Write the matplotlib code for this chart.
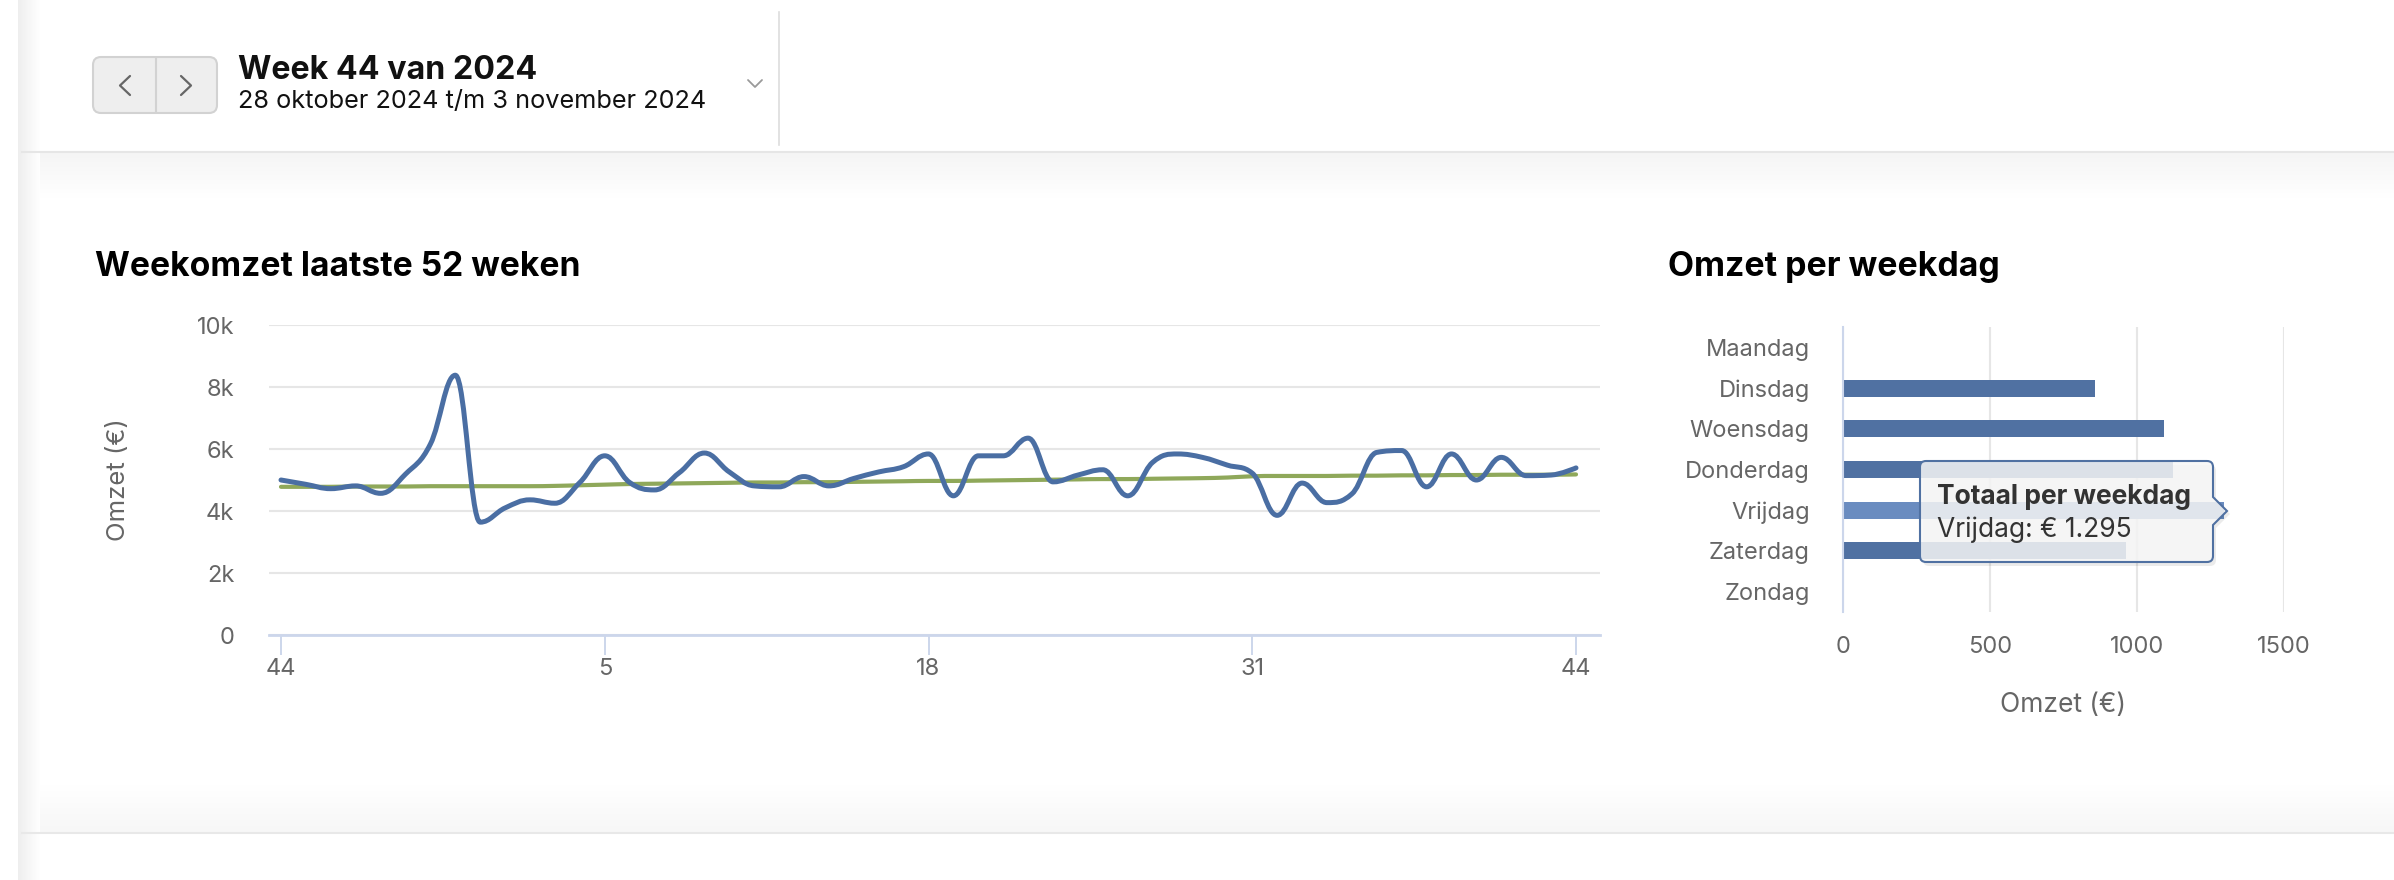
import numpy as np
import matplotlib
matplotlib.use("Agg")
import matplotlib.pyplot as plt
from matplotlib.path import Path
from matplotlib.patches import PathPatch, FancyBboxPatch
from matplotlib.colors import LinearSegmentedColormap

plt.rcParams['font.family'] = ['Inter', 'DejaVu Sans']

# --- data -------------------------------------------------------------
weeks = [44, 45, 46, 47, 48, 49, 50, 51, 52] + list(range(1, 45))
omzet = [5000, 4860, 4720, 4810, 4570, 5190, 6160, 8380, 3640, 4100,
         4360, 4250, 4920, 5780, 4920, 4680, 5240, 5870, 5260, 4810,
         4780, 5110, 4810, 5050, 5260, 5430, 5840, 4490, 5780, 5780,
         6350, 4940, 5160, 5330, 4490, 5570, 5840, 5730, 5480, 5220,
         3860, 4900, 4270, 4550, 5890, 5950, 4780, 5840, 5000, 5730,
         5140, 5160, 5390]
gemiddelde = [4780, 4780, 4780, 4790, 4790, 4790, 4800, 4800, 4800, 4800,
              4800, 4810, 4830, 4850, 4870, 4880, 4890, 4900, 4910, 4920,
              4920, 4930, 4930, 4940, 4950, 4960, 4970, 4970, 4980, 4990,
              5000, 5010, 5020, 5030, 5030, 5040, 5050, 5060, 5080, 5120,
              5130, 5130, 5130, 5140, 5140, 5150, 5150, 5160, 5160, 5170,
              5170, 5170, 5180]
tick_idx = [0, 13, 26, 39, 52]

dagen = ['Maandag', 'Dinsdag', 'Woensdag', 'Donderdag', 'Vrijdag', 'Zaterdag', 'Zondag']
dag_omzet = [0, 858, 1091, 1122, 1295, 963, 0]
hover_dag = 'Vrijdag'

W, H = 2394, 880
BLUE = '#4a6ea3'
GREEN = '#8fa85a'
BAR = '#5071a2'
BAR_HOVER = '#6a8cc0'
GRID = '#e6e6e6'
AXIS = '#ccd6eb'
LABEL = '#666666'


def fx(x):
    return x / W


def fy(y):
    return 1 - y / H


def hc_spline(x, y, smoothing=1.5):
    # same control point rule as a Highcharts spline series
    n = len(x)
    denom = smoothing + 1
    lc = [None] * n
    rc = [None] * n
    for i in range(1, n - 1):
        lx = (smoothing * x[i] + x[i - 1]) / denom
        ly = (smoothing * y[i] + y[i - 1]) / denom
        rx = (smoothing * x[i] + x[i + 1]) / denom
        ry = (smoothing * y[i] + y[i + 1]) / denom
        corr = 0
        if rx != lx:
            corr = ((ry - ly) * (rx - x[i])) / (rx - lx) + y[i] - ry
        ly += corr
        ry += corr
        if ly > y[i - 1] and ly > y[i]:
            ly = max(y[i - 1], y[i]); ry = 2 * y[i] - ly
        elif ly < y[i - 1] and ly < y[i]:
            ly = min(y[i - 1], y[i]); ry = 2 * y[i] - ly
        if ry > y[i + 1] and ry > y[i]:
            ry = max(y[i + 1], y[i]); ly = 2 * y[i] - ry
        elif ry < y[i + 1] and ry < y[i]:
            ry = min(y[i + 1], y[i]); ly = 2 * y[i] - ry
        lc[i] = (lx, ly)
        rc[i] = (rx, ry)
    verts = [(x[0], y[0])]
    codes = [Path.MOVETO]
    for i in range(1, n):
        c1 = rc[i - 1] if rc[i - 1] else (x[i - 1], y[i - 1])
        c2 = lc[i] if lc[i] else (x[i], y[i])
        verts += [c1, c2, (x[i], y[i])]
        codes += [Path.CURVE4] * 3
    return Path(verts, codes)


fig = plt.figure(figsize=(W / 100, H / 100), dpi=100)
fig.patch.set_facecolor('white')

# --- page background / header -----------------------------------------
bg = fig.add_axes([0, 0, 1, 1], zorder=-5)
bg.axis('off')

def grad(ax, x0, x1, y0, y1, c0, c1, vertical):
    cmap = LinearSegmentedColormap.from_list('g', [c0, c1])
    g = np.linspace(0, 1, 64)
    img = g.reshape(-1, 1) if vertical else g.reshape(1, -1)
    ax.imshow(img, cmap=cmap, extent=[x0, x1, y1, y0], aspect='auto', origin='upper')

grad(bg, 22, W, 153, 198, '#f5f5f5', '#ffffff', True)
grad(bg, 22, W, 785, 832, '#ffffff', '#f7f7f7', True)
grad(bg, 18, 40, 0, H, '#eeeeee', '#ffffff', False)
bg.plot([22, W], [152, 152], color='#e6e6e6', lw=1.5)
bg.plot([22, W], [833, 833], color='#e8e8e8', lw=1.5)
bg.set_xlim(0, W)
bg.set_ylim(H, 0)

# navigation buttons
bg.add_patch(FancyBboxPatch((93, 57), 124, 56, boxstyle='round,pad=0,rounding_size=8',
                            facecolor='#eeeeee', edgecolor='#d2d2d2', lw=1.5))
bg.plot([156, 156], [58, 112], color='#d2d2d2', lw=1.5)
bg.plot([130, 120, 130], [76, 85.5, 95], color='#666666', lw=1.6, solid_capstyle='round')
bg.plot([181, 191, 181], [76, 85.5, 95], color='#666666', lw=1.6, solid_capstyle='round')
bg.plot([748, 755, 762], [80, 87, 80], color='#9a9a9a', lw=1.3, solid_capstyle='round')
bg.plot([779, 779], [12, 145], color='#dddddd', lw=1.2)

fig.text(fx(238), fy(79), 'Week 44 van 2024', fontsize=23.2, fontweight='bold',
         color='#111111', va='baseline')
fig.text(fx(238), fy(108), '28 oktober 2024 t/m 3 november 2024', fontsize=18.2,
         color='#111111', va='baseline')

fig.text(fx(95), fy(276), 'Weekomzet laatste 52 weken', fontsize=24.2, fontweight='bold',
         color='#000000', va='baseline')
fig.text(fx(1668), fy(276), 'Omzet per weekdag', fontsize=24.4, fontweight='bold',
         color='#000000', va='baseline')

# --- left chart: week omzet --------------------------------------------
px_per_week = (1576 - 281) / 52
ax1 = fig.add_axes([fx(269), fy(635), fx(1600 - 269), (635 - 325) / H])
x = np.arange(len(omzet))
ax1.set_xlim(-(281 - 269) / px_per_week, 52 + (1600 - 1576) / px_per_week)
ax1.set_ylim(0, 10000)
ax1.add_patch(PathPatch(hc_spline(x, gemiddelde), facecolor='none', edgecolor=GREEN,
                        lw=3.0, capstyle='round', joinstyle='round', zorder=3))
ax1.add_patch(PathPatch(hc_spline(x, omzet), facecolor='none', edgecolor=BLUE,
                        lw=3.6, capstyle='round', joinstyle='round', zorder=4))
ax1.set_yticks([0, 2000, 4000, 6000, 8000, 10000])
ax1.set_yticklabels(['0', '2k', '4k', '6k', '8k', '10k'])
ax1.set_xticks(tick_idx)
ax1.set_xticklabels([str(weeks[i]) for i in tick_idx])
ax1.yaxis.grid(True, color=GRID, lw=1.5)
ax1.set_axisbelow(True)
for s in ['top', 'right', 'left']:
    ax1.spines[s].set_visible(False)
ax1.spines['bottom'].set_color(AXIS)
ax1.spines['bottom'].set_linewidth(2)
ax1.tick_params(axis='y', length=0, pad=25, labelsize=17, labelcolor=LABEL)
ax1.tick_params(axis='x', length=14.4, width=1.4, color=AXIS, pad=2,
                labelsize=17, labelcolor=LABEL)
ax1.patch.set_alpha(0)
fig.text(fx(119), fy(480), 'Omzet (€)', rotation=90, fontsize=18.5, color=LABEL,
         ha='center', va='center')

# --- right chart: omzet per weekdag --------------------------------------
ax2 = fig.add_axes([fx(1843), fy(612), fx(2284 - 1843), (612 - 327) / H])
kleuren = [BAR_HOVER if d == hover_dag else BAR for d in dagen]
ax2.barh(np.arange(len(dagen)), dag_omzet, height=0.415, color=kleuren, zorder=3)
ax2.set_xlim(0, 1500)
ax2.set_ylim(len(dagen) - 0.5, -0.5)
ax2.set_yticks(np.arange(len(dagen)))
ax2.set_yticklabels(dagen)
ax2.set_xticks([0, 500, 1000, 1500])
ax2.xaxis.grid(True, color=GRID, lw=1.5)
ax2.set_axisbelow(True)
for s in ['top', 'right', 'bottom']:
    ax2.spines[s].set_visible(False)
ax2.spines['left'].set_color(AXIS)
ax2.spines['left'].set_linewidth(1.5)
ax2.spines['left'].set_zorder(4)
ax2.tick_params(axis='y', length=0, pad=24, labelsize=17, labelcolor=LABEL)
ax2.tick_params(axis='x', length=0, pad=17, labelsize=17, labelcolor=LABEL)
ax2.patch.set_alpha(0)
fig.text(fx(2063), fy(705), 'Omzet (€)', fontsize=19, color=LABEL,
         ha='center', va='center')

# --- tooltip overlay --------------------------------------------------
ov = fig.add_axes([0, 0, 1, 1], zorder=10)
ov.set_xlim(0, W)
ov.set_ylim(H, 0)
ov.axis('off')
ov.patch.set_alpha(0)

def callout(x0, y0, x1, y1, r, ty, tip):
    v = [(x0 + r, y0), (x1 - r, y0), (x1, y0), (x1, y0 + r),
         (x1, ty - 14), (x1 + tip, ty), (x1, ty + 14),
         (x1, y1 - r), (x1, y1), (x1 - r, y1),
         (x0 + r, y1), (x0, y1), (x0, y1 - r),
         (x0, y0 + r), (x0, y0), (x0 + r, y0), (x0 + r, y0)]
    c = [Path.MOVETO, Path.LINETO, Path.CURVE3, Path.CURVE3,
         Path.LINETO, Path.LINETO, Path.LINETO,
         Path.LINETO, Path.CURVE3, Path.CURVE3,
         Path.LINETO, Path.CURVE3, Path.CURVE3,
         Path.LINETO, Path.CURVE3, Path.CURVE3, Path.CLOSEPOLY]
    return Path(v, c)

ov.add_patch(PathPatch(callout(1923, 465, 2216, 566, 6, 514, 14), facecolor='#000000',
                       edgecolor='none', alpha=0.08))
ov.add_patch(PathPatch(callout(1920, 461, 2213, 562, 6, 511, 14),
                       facecolor=(247 / 255, 247 / 255, 247 / 255, 0.85),
                       edgecolor=BAR, lw=1.5))
fig.text(fx(1937), fy(504), 'Totaal per weekdag', fontsize=19, fontweight='bold',
         color='#333333', va='baseline', zorder=11)
fig.text(fx(1937), fy(537), 'Vrijdag: € {:,}'.format(dag_omzet[dagen.index(hover_dag)]).replace(',', '.'),
         fontsize=19, color='#333333', va='baseline', zorder=11)

fig.savefig('out.png', dpi=100, facecolor='white')
